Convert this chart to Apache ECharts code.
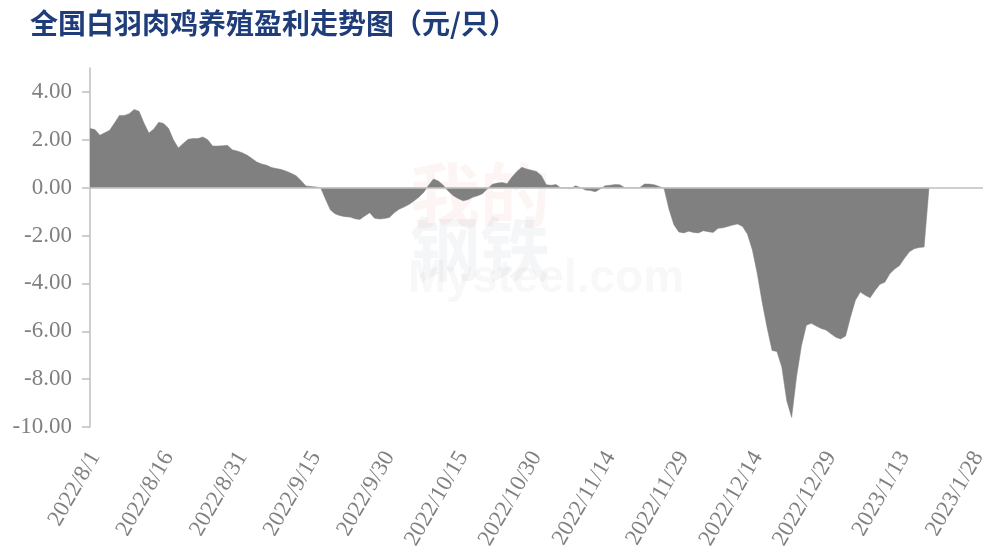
<!DOCTYPE html>
<html>
<head>
<meta charset="utf-8">
<script src="https://cdn.jsdelivr.net/npm/echarts@6/dist/echarts.min.js"></script>
<style>
  html, body { margin: 0; padding: 0; background: #fff; }
  #main { width: 985px; height: 559px; }
</style>
</head>
<body>
<div id="main"></div>
<script>
// 全国白羽肉鸡养殖盈利（元/只），按日
var profitAug = [2.47, 2.43, 2.19, 2.29, 2.40, 2.70, 3.02, 3.02, 3.09, 3.27, 3.19, 2.70, 2.28, 2.45, 2.73, 2.68,
    2.48, 2.00, 1.66, 1.85, 2.02, 2.05, 2.05, 2.12, 2.00, 1.74, 1.74, 1.75, 1.77, 1.58, 1.53];
var profitSep = [1.46, 1.36, 1.22, 1.07, 0.99, 0.94, 0.84, 0.80, 0.76, 0.69, 0.60, 0.50, 0.30, 0.07, 0.05,
    0.03, 0.00, -0.48, -0.93, -1.10, -1.17, -1.21, -1.23, -1.30, -1.33, -1.18, -1.05, -1.28, -1.31, -1.29];
var profitOct = [-1.25, -1.05, -0.90, -0.81, -0.70, -0.56, -0.40, -0.20, 0.10, 0.36, 0.28, 0.10, -0.14, -0.33,
    -0.45, -0.55, -0.50, -0.40, -0.34, -0.25, -0.05, 0.14, 0.19, 0.22, 0.16, 0.45, 0.68, 0.85, 0.78, 0.73, 0.68];
var profitNov = [0.50, 0.12, 0.10, 0.13, -0.02, 0.00, -0.03, 0.08, 0.00, -0.10, -0.12, -0.17, -0.05, 0.08, 0.10,
    0.13, 0.12, 0.00, 0.00, 0.00, 0.00, 0.15, 0.15, 0.12, 0.05, -0.03, -0.90, -1.55, -1.85, -1.89];
var profitDec = [-1.82, -1.87, -1.89, -1.80, -1.84, -1.87, -1.70, -1.68, -1.62, -1.56, -1.52, -1.62, -1.95, -2.60,
    -3.60, -4.80, -5.85, -6.80, -6.85, -7.50, -8.90, -9.60, -7.90, -6.60, -5.75, -5.67, -5.78, -5.88, -5.95, -6.10, -6.25];
var profitJan = [-6.32, -6.20, -5.40, -4.70, -4.36, -4.50, -4.60, -4.30, -4.04, -3.95, -3.60, -3.40, -3.25,
    -2.95, -2.68, -2.55, -2.50, -2.48, 0.00];

var yTicks = [-10, -8, -6, -4, -2, 0, 2, 4];

// 日期类目：2022/8/1 ~ 2023/1/30
var dates = [];
var d = new Date(2022, 7, 1);
var end = new Date(2023, 0, 30);
while (d <= end) {
    dates.push(d.getFullYear() + '/' + (d.getMonth() + 1) + '/' + d.getDate());
    d.setDate(d.getDate() + 1);
}

var profit = [].concat(profitAug, profitSep, profitOct, profitNov, profitDec, profitJan);

var myChart = echarts.init(document.getElementById('main'), null, { renderer: 'canvas' });
var gray = '#808080';
var axisGray = '#bfbfbf';
var serif = '"Liberation Serif", "DejaVu Serif", serif';

myChart.setOption({
    animation: false,
    backgroundColor: '#fff',
    title: {
        text: '全国白羽肉鸡养殖盈利走势图（元/只）',
        left: 25,
        top: 4,
        textStyle: {
            color: '#1f3d7a',
            fontSize: 28,
            fontWeight: 'bold',
            fontFamily: '"Noto Sans CJK SC", sans-serif'
        }
    },
    // 水印
    graphic: [
        { type: 'text', left: 410, top: 160, z: 0, style: { text: '我的', fontSize: 70, fontWeight: 'bold', fontFamily: '"Noto Sans CJK SC"', fill: 'rgba(225,90,70,0.06)' } },
        { type: 'text', left: 410, top: 214, z: 0, style: { text: '钢铁', fontSize: 70, fontWeight: 'bold', fontFamily: '"Noto Sans CJK SC"', fill: 'rgba(110,130,160,0.07)' } },
        { type: 'text', left: 408, top: 256, z: 0, style: { text: 'Mysteel.com', fontSize: 46, fontWeight: 'bold', fontFamily: 'Arial, "Liberation Sans"', fill: 'rgba(150,150,150,0.07)' } }
    ],
    grid: {
        left: 90,
        right: 2,
        top: 68,
        bottom: 132,
        outerBoundsMode: 'none'
    },
    xAxis: {
        type: 'category',
        data: dates,
        boundaryGap: false,
        axisLine: { show: false, onZero: false },
        axisTick: { show: false },
        axisLabel: {
            interval: 14,
            rotate: 60,
            margin: 35,
            padding: [0, -10, 0, 0],
            color: gray,
            fontSize: 23,
            fontFamily: serif
        },
        splitLine: { show: false }
    },
    yAxis: {
        type: 'value',
        min: -10,
        max: 5,
        interval: 1,
        axisLine: { show: true, lineStyle: { color: axisGray, width: 1.5 } },
        axisTick: { show: true, length: 8, customValues: yTicks, lineStyle: { color: axisGray, width: 1.5 } },
        axisLabel: {
            customValues: yTicks,
            margin: 18,
            color: gray,
            fontSize: 23,
            fontFamily: serif,
            formatter: function (v) { return v.toFixed(2); }
        },
        splitLine: { show: false }
    },
    series: [{
        name: '盈利',
        type: 'line',
        data: profit,
        symbol: 'none',
        lineStyle: { width: 0.5, color: gray },
        itemStyle: { color: gray },
        areaStyle: { color: gray, opacity: 1 },
        markLine: {
            silent: true,
            symbol: 'none',
            label: { show: false },
            lineStyle: { color: axisGray, width: 1.5, type: 'solid' },
            data: [{ yAxis: 0 }]
        }
    }]
});
</script>
</body>
</html>
